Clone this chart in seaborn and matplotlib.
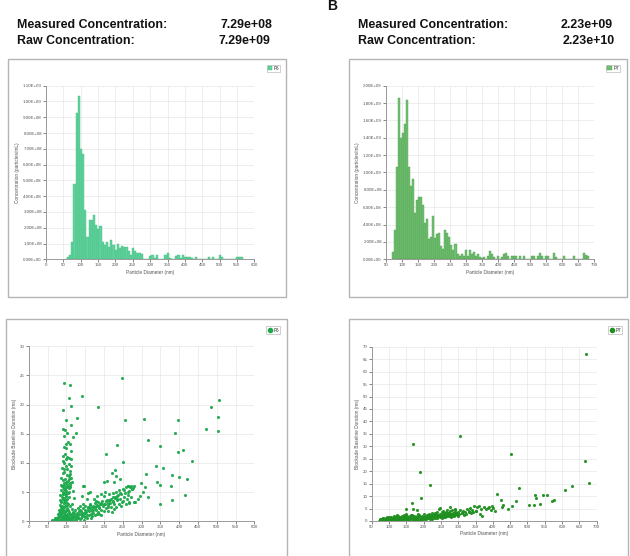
import numpy as np
import pandas as pd
import seaborn as sns
import matplotlib
matplotlib.use("Agg")
import matplotlib.pyplot as plt
from matplotlib.patches import Rectangle, Patch
from matplotlib.lines import Line2D
from matplotlib.ticker import FuncFormatter

# ---------------- data ----------------
header_labels = ["Measured Concentration:", "Raw Concentration:"]
left_header_values = ["7.29e+08", "7.29e+09"]
right_header_values = ["2.23e+09", "2.23e+10"]
panel_letter = "B"
legend_a = "P6"
legend_b = "P7"

# histogram A (left): bin centers (nm) and concentration (x1e8 particles/mL)
hist_a_centers = [56.875, 63.125, 69.375, 75.625, 81.875, 88.125, 94.375, 100.625, 106.875,
                  113.125, 119.375, 125.625, 131.875, 138.125, 144.375, 150.625, 156.875,
                  163.125, 169.375, 175.625, 181.875, 188.125, 194.375, 200.625, 206.875,
                  213.125, 219.375, 225.625, 231.875, 238.125, 244.375, 250.625, 256.875,
                  263.125, 269.375, 275.625, 281.875, 300.625, 306.875, 313.125, 319.375,
                  344.375, 350.625, 356.875, 375.625, 381.875, 388.125, 394.375, 400.625,
                  406.875, 413.125, 419.375, 431.875, 469.375, 481.875, 500.625, 506.875,
                  550.625, 556.875, 563.125]
hist_a_values = [0.05, 0.15, 0.3, 1.1, 4.8, 9.25, 10.36, 7.0, 6.7,
                 3.1, 1.4, 2.5, 2.5, 2.8, 2.2, 1.9, 2.1,
                 1.1, 0.9, 1.1, 0.8, 1.2, 0.9, 0.6, 1.0,
                 0.7, 0.85, 0.8, 0.75, 0.5, 0.3, 0.7, 0.5,
                 0.4, 0.4, 0.35, 0.05, 0.2, 0.25, 0.1, 0.25,
                 0.3, 0.4, 0.1, 0.2, 0.25, 0.1, 0.25, 0.15,
                 0.15, 0.15, 0.1, 0.15, 0.15, 0.15, 0.25, 0.15,
                 0.15, 0.15, 0.15]

# histogram B (right)
hist_b_centers = [73.125, 79.375, 85.625, 91.875, 98.125, 104.375, 110.625, 116.875, 123.125,
                  129.375, 135.625, 141.875, 148.125, 154.375, 160.625, 166.875, 173.125,
                  179.375, 185.625, 191.875, 198.125, 204.375, 210.625, 216.875, 223.125,
                  229.375, 235.625, 241.875, 248.125, 254.375, 260.625, 266.875, 273.125,
                  279.375, 285.625, 291.875, 298.125, 304.375, 310.625, 316.875, 323.125,
                  329.375, 335.625, 341.875, 348.125, 354.375, 366.875, 373.125, 379.375,
                  385.625, 398.125, 410.625, 416.875, 423.125, 429.375, 441.875, 448.125,
                  454.375, 466.875, 479.375, 504.375, 510.625, 523.125, 529.375, 535.625,
                  548.125, 554.375, 573.125, 579.375, 604.375, 635.625, 666.875, 673.125,
                  679.375]
hist_b_values = [0.8, 3.4, 10.6, 18.6, 14.0, 14.5, 15.6, 18.3, 10.6,
                 8.4, 9.2, 5.3, 6.8, 7.2, 7.2, 6.2, 4.2,
                 4.6, 2.3, 2.6, 5.0, 2.4, 2.9, 3.0, 1.5,
                 1.2, 3.4, 3.0, 2.6, 1.6, 1.1, 1.8, 0.6,
                 0.4, 0.6, 0.4, 1.1, 0.4, 1.1, 0.6, 0.8,
                 0.4, 0.6, 0.3, 0.2, 0.3, 0.4, 0.9, 0.6,
                 0.3, 0.4, 0.3, 0.6, 0.7, 0.4, 0.35, 0.4,
                 0.4, 0.35, 0.4, 0.35, 0.4, 0.4, 0.75, 0.4,
                 0.4, 0.35, 0.75, 0.3, 0.35, 0.35, 0.75, 0.5,
                 0.35]

# scatter A (left): diameter (nm) vs blockade baseline duration (ms)
scatter_a_x = [95, 110, 141, 106, 113, 92, 185, 249, 128, 99, 256, 307, 398, 113, 90, 97, 126, 101, 118,
               316, 388, 235, 348, 505, 485, 503, 471, 504, 206, 396, 410, 434, 252, 338, 357, 312, 382,
               400, 422, 221, 230, 233, 243, 227, 199, 342, 348, 299, 309, 379, 145, 417, 318, 382, 350,
               267, 279, 277, 263,
               95, 98, 100, 104, 92, 97, 102, 108, 112, 90, 94, 99, 106, 113, 88, 93, 98, 103, 109, 90,
               95, 101, 107, 112, 87, 92, 97, 100, 104, 109, 114, 85, 89, 94, 98, 102, 106, 111, 86, 90,
               93, 96, 100, 104, 108, 84, 88, 92, 95, 99, 103, 107, 83, 87, 90, 94, 97, 101, 105, 82,
               85, 89, 92, 96, 99, 103, 80, 84, 87, 91, 95, 98, 102, 106, 110, 77, 80, 83, 86, 89,
               93, 96, 100, 104, 108, 112, 116, 120, 73, 76, 79, 82, 85, 88, 91, 94, 97, 101, 105, 109,
               113, 118, 124, 68, 70, 65, 63, 72, 117, 114, 111, 116, 120, 118, 113, 95, 110,
               91, 94, 96, 98, 100, 93, 97, 89, 103, 99, 101, 95, 92, 105,
               125, 130, 128, 135, 138, 140, 143, 146, 150, 148, 152, 155, 157, 160, 162, 165, 167, 170,
               172, 175, 178, 180, 183, 185, 188, 190, 193, 195, 198, 200, 203, 205, 208, 210, 213, 215,
               218, 220, 223, 225, 228, 230, 233, 236, 238, 240, 243, 246, 248, 251, 254, 257, 260, 263,
               265, 268, 270, 273, 276, 280, 132, 137, 144, 154, 158, 163, 147, 142, 168, 173, 182, 192,
               204, 212, 226, 245, 258, 207, 186, 176, 166, 156, 146, 136, 126, 131, 141, 151, 161, 171,
               181, 191, 201, 211, 221, 231, 241, 251, 261, 271, 284, 290, 296, 303, 267,
               78, 81, 84, 87, 90, 93, 96, 99, 102, 105, 108, 111, 114, 117, 121, 127, 133, 139,
               145, 151, 157, 163, 169, 175, 181, 187, 193, 199, 205, 211, 217, 223, 229, 235,
               86, 91, 96, 101, 106, 111, 89, 94, 99, 104, 109, 115, 122, 129, 136, 143, 150, 157,
               164, 171, 178, 185, 192, 214, 224, 234, 244, 254, 264, 274]
scatter_a_y = [23.7, 23.4, 21.4, 21.1, 19.7, 19.1, 19.6, 24.5, 17.7, 17.3, 17.3, 17.5, 17.4, 16.5, 15.9,
               15.7, 15.2, 15.2, 14.5, 13.9, 15.2, 13.0, 12.9, 20.8, 19.6, 17.9, 15.8, 15.4, 11.5, 11.9,
               12.2, 10.3, 10.1, 9.5, 9.1, 8.1, 8.0, 7.6, 7.3, 8.3, 8.8, 7.8, 7.3, 6.8, 6.8, 6.8, 6.3,
               6.6, 5.8, 6.1, 6.1, 4.5, 4.1, 3.7, 2.9, 3.3, 3.3, 5.7, 6.1,
               12.8, 12.5, 13.3, 13.6, 11.2, 11.6, 11.0, 10.8, 10.6, 10.3, 10.0, 10.6, 9.8, 9.5, 9.2,
               9.0, 9.4, 8.9, 8.6, 8.2, 8.4, 8.0, 7.8, 7.4, 7.5, 7.0, 7.2, 6.8, 6.9, 6.6, 6.7, 6.3,
               6.0, 6.2, 5.9, 6.1, 5.7, 5.8, 5.3, 5.1, 5.5, 4.9, 5.2, 4.8, 5.0, 4.5, 4.2, 4.6, 4.0,
               4.3, 3.9, 4.1, 3.6, 3.3, 3.8, 3.1, 3.5, 3.2, 2.9, 2.8, 2.5, 2.7, 2.2, 2.6, 2.0, 2.3,
               2.0, 1.8, 1.5, 1.9, 1.4, 1.7, 1.2, 1.6, 1.3, 1.2, 0.9, 1.3, 0.7, 1.0, 0.6, 0.9, 0.5,
               0.8, 0.4, 0.7, 0.5, 0.9, 0.6, 0.3, 0.5, 0.2, 0.4, 0.1, 0.3, 0.2, 0.4, 0.1, 0.3, 0.2,
               0.1, 0.3, 0.5, 0.2, 0.5, 0.1, 0.3, 0.1, 1.6, 2.1, 2.6, 3.0, 4.0, 5.2, 12.1, 14.6, 13.3,
               5.9, 6.6, 5.3, 4.6, 3.7, 2.4, 1.1, 1.7, 0.3, 0.9, 2.8, 3.2, 0.8, 0.6,
               1.0, 0.8, 1.5, 1.2, 0.6, 1.8, 1.0, 1.4, 2.0, 0.9, 1.6, 1.1, 2.4, 1.7, 2.8, 1.3, 2.1, 2.6,
               1.5, 3.1, 2.0, 2.7, 1.6, 3.3, 2.3, 2.9, 1.9, 3.5, 2.6, 4.3, 3.0, 2.2, 3.7, 2.8, 4.6, 3.2,
               2.5, 3.9, 4.8, 3.4, 2.9, 4.2, 5.0, 3.6, 4.5, 5.3, 3.9, 4.7, 3.3, 5.5, 4.2, 4.9, 5.8, 4.5,
               6.0, 5.2, 5.8, 6.1, 5.5, 6.0, 2.3, 2.6, 3.0, 3.8, 4.9, 5.1, 6.1, 4.3, 0.9, 3.9, 4.4, 4.6,
               5.1, 1.8, 2.1, 2.6, 3.0, 6.9, 1.2, 1.0, 0.6, 0.5, 0.3, 0.4, 0.2, 0.6, 0.9, 0.8, 1.0, 1.9,
               1.3, 1.1, 1.8, 2.4, 1.6, 2.5, 3.0, 3.5, 3.9, 4.1, 3.3, 3.9, 4.4, 5.0, 3.2,
               0.7, 1.5, 0.3, 2.1, 0.8, 1.6, 0.2, 1.1, 0.6, 1.9, 1.0, 0.4, 1.2, 0.8, 1.4, 0.5, 1.7, 1.3,
               2.2, 1.4, 1.9, 2.4, 1.7, 2.3, 2.8, 2.5, 3.2, 2.9, 3.4, 3.1, 3.6, 3.3, 4.0, 3.8,
               3.4, 4.7, 5.6, 6.4, 7.3, 8.1, 2.4, 3.7, 4.4, 5.9, 6.3, 1.0, 1.9, 1.1, 2.0, 1.5, 2.6, 2.3,
               2.9, 2.5, 3.4, 2.6, 3.0, 3.6, 4.1, 4.3, 4.9, 5.3, 5.0, 5.6]

# scatter B (right)
scatter_b_x = [668, 304, 168, 189, 193, 218, 452, 667, 678, 629, 607, 475, 412, 522, 525, 546, 557, 576,
               572, 504, 519, 535, 468, 423, 429, 426, 454, 445, 165, 148, 170, 182, 148,
               72, 75, 78, 80, 83, 86, 88, 90, 92, 95, 97, 100, 102, 105, 107, 110, 112, 115, 117, 120,
               122, 125, 127, 130, 132, 135, 137, 140, 142, 145, 147, 150, 152, 155, 157, 160, 162, 165,
               167, 170, 172, 175, 177, 180, 182, 185, 187, 190, 192, 195, 197, 200, 202, 205, 207, 210,
               212, 215, 217, 220, 222, 225, 227, 230, 232, 235, 237, 240, 242, 245, 247, 250, 252, 255,
               257, 260, 262, 265, 267, 270, 272, 275, 277, 280, 282, 285, 287, 290, 292, 295, 300, 305,
               310, 315, 320, 325, 330, 335, 340, 345, 350, 355, 360, 365, 370, 375, 380, 385, 390, 395,
               400, 405, 397, 362, 338, 318, 298, 278, 258, 238, 218, 198, 178, 158, 138, 118, 98, 85,
               76, 113, 128, 143, 153, 168, 183, 193, 203, 213, 223, 233, 243, 253, 263, 273, 283, 293,
               246, 276, 290, 82, 94, 108, 124, 134, 149, 163, 176, 188, 206, 228, 248, 268, 288,
               74, 79, 84, 89, 93, 99, 104, 109, 114, 119, 126, 131, 136, 141, 146, 151, 156, 161,
               166, 171, 176, 181, 186, 191, 196, 201, 209, 214, 219, 224, 229, 236, 241, 251, 256,
               261, 266, 271, 281, 286, 291, 296, 302, 312, 322, 332, 342, 352]
scatter_b_y = [67.2, 34.3, 30.9, 19.8, 9.1, 14.3, 26.9, 24.1, 15.1, 14.2, 12.3, 13.1, 10.7, 10.3, 9.1,
               10.3, 10.3, 8.6, 8.0, 6.4, 6.4, 6.7, 7.9, 8.3, 6.3, 5.5, 5.9, 5.0, 7.2, 4.7, 4.7, 4.4, 2.9,
               0.2, 0.5, 0.1, 0.8, 0.3, 1.0, 0.4, 0.0, 1.3, 0.6, 0.2, 1.5, 0.8, 0.3, 1.8, 1.1, 0.5, 2.2,
               0.9, 1.6, 0.4, 1.2, 2.0, 0.7, 1.4, 0.9, 1.9, 1.1, 0.5, 1.6, 0.9, 1.3, 2.1, 0.8, 1.5, 1.9,
               1.0, 1.5, 2.3, 1.2, 0.6, 1.8, 1.4, 2.0, 0.9, 1.6, 2.5, 1.8, 1.2, 2.1, 1.5, 1.8, 2.7, 1.3,
               2.0, 2.4, 1.6, 2.9, 2.1, 1.5, 2.6, 3.1, 1.9, 2.3, 3.3, 2.0, 2.8, 3.6, 2.4, 4.8, 3.0, 2.2,
               3.5, 2.7, 4.0, 3.1, 2.3, 3.6, 4.3, 2.8, 3.3, 2.5, 3.9, 3.0, 4.5, 3.4, 2.6, 3.8, 5.0, 3.2,
               3.6, 4.6, 3.1, 4.2, 3.5, 4.8, 3.9, 5.3, 4.4, 5.9, 4.1, 5.5, 6.0, 4.7, 2.2, 5.6, 4.9, 5.4,
               5.8, 4.3, 5.2, 4.0, 6.0, 2.9, 3.1, 2.6, 2.2, 1.8, 1.7, 1.3, 0.9, 0.7, 0.4, 0.3, 0.2, 0.1,
               1.1, 0.6, 1.0, 1.7, 0.3, 2.4, 0.5, 0.4, 2.8, 0.3, 0.9, 1.1, 0.8, 1.2, 1.9, 1.4, 1.8, 2.1,
               2.3, 2.8, 5.2, 5.6, 4.6, 1.4, 1.7, 0.6, 2.3, 0.2, 0.6, 2.6, 0.8, 0.5, 1.0, 1.1, 1.7, 1.9, 2.0,
               0.9, 0.3, 1.2, 0.7, 0.1, 0.9, 1.2, 0.2, 1.4, 0.6, 0.9, 1.7, 0.4, 1.3, 2.0, 0.5, 1.1, 1.6,
               0.7, 1.9, 1.1, 1.4, 2.1, 0.8, 1.3, 1.5, 1.8, 2.2, 1.2, 1.9, 2.5, 1.6, 2.1, 2.6, 1.9,
               2.9, 2.2, 3.2, 2.0, 2.7, 3.1, 2.4, 2.8, 3.3, 3.0, 3.6, 3.8, 4.2]

# ---------------- styling ----------------
sns.set_theme(style="whitegrid")
plt.rcParams["font.family"] = ["Liberation Sans", "DejaVu Sans"]

W, H = 630, 556
fig = plt.figure(figsize=(6.3, 5.56), dpi=100)


def fx(px):
    return px / W


def fy(py):
    return 1 - py / H


def axes_px(x0, y0, x1, y1):
    return fig.add_axes([fx(x0), fy(y1), fx(x1) - fx(x0), (y1 - y0) / H])


frame_col = "#b4b4b4"
for (x0, y0, x1, y1) in [(8, 59, 286, 297), (349, 59, 627, 297), (6, 319, 287, 570), (349, 319, 628, 570)]:
    fig.add_artist(Rectangle((fx(x0), fy(y1)), fx(x1) - fx(x0), (y1 - y0) / H,
                             transform=fig.transFigure, fill=False, edgecolor=frame_col, lw=1.0))

# headers
hdr_kw = dict(fontsize=8.9, fontweight="bold", color="#111111", transform=fig.transFigure)
fig.text(fx(17), fy(27.5), header_labels[0], ha="left", va="baseline", **hdr_kw)
fig.text(fx(17), fy(44), header_labels[1], ha="left", va="baseline", **hdr_kw)
fig.text(fx(272), fy(27.5), left_header_values[0], ha="right", va="baseline", **hdr_kw)
fig.text(fx(270), fy(44), left_header_values[1], ha="right", va="baseline", **hdr_kw)
fig.text(fx(358), fy(27.5), header_labels[0], ha="left", va="baseline", **hdr_kw)
fig.text(fx(358), fy(44), header_labels[1], ha="left", va="baseline", **hdr_kw)
fig.text(fx(613), fy(27.5), right_header_values[0], ha="right", va="baseline", **hdr_kw)
fig.text(fx(615), fy(44), right_header_values[1], ha="right", va="baseline", **hdr_kw)
fig.text(fx(327), fy(10.5), panel_letter, ha="left", va="baseline", fontsize=10,
         fontweight="bold", color="#111111")

tick_fs = 3.2
lab_fs = 3.4
grid_col = "#e8e8e8"
spine_col = "#9a9a9a"


def style_axes(ax, xlabel, ylabel):
    ax.set_facecolor("white")
    ax.grid(True, color=grid_col, lw=0.5)
    for s in ["top", "right"]:
        ax.spines[s].set_visible(False)
    for s in ["left", "bottom"]:
        ax.spines[s].set_color(spine_col)
        ax.spines[s].set_linewidth(0.7)
    ax.tick_params(axis="both", labelsize=tick_fs, colors="#555555", length=2, width=0.5,
                   pad=1, direction="out", left=True, bottom=True)
    ax.set_xlabel(xlabel, fontsize=lab_fs, color="#555555", labelpad=1.5)
    ax.set_ylabel(ylabel, fontsize=lab_fs, color="#555555", labelpad=2)


def sci(v, pos):
    if v == 0:
        return "0.00E+00"
    e = int(np.floor(np.log10(abs(v))))
    return f"{v / 10 ** e:.2f}E+{e:02d}"


def legend_box(label, handle, x0, y0, x1, y1):
    leg = fig.legend([handle], [label], loc="center", bbox_to_anchor=(fx((x0 + x1) / 2), fy((y0 + y1) / 2)),
                     bbox_transform=fig.transFigure, fontsize=3.3, frameon=True, handlelength=1.0,
                     handleheight=1.0, handletextpad=0.3, borderpad=0.25, fancybox=False,
                     borderaxespad=0)
    leg.get_frame().set_edgecolor("#aaaaaa")
    leg.get_frame().set_linewidth(0.5)


# --- histogram A ---
col_a = "#62d39c"
edge_a = "#43bf84"
ax1 = axes_px(46, 85.7, 254.3, 259.3)
df_a = pd.DataFrame({"d": hist_a_centers, "c": np.array(hist_a_values) * 1e8})
sns.histplot(data=df_a, x="d", weights="c", binwidth=6.25, binrange=(53.75, 566.25), ax=ax1,
             color=col_a, edgecolor=edge_a, linewidth=0.3, alpha=1.0)
ax1.set_xlim(0, 600)
ax1.set_ylim(0, 1.1e9)
ax1.set_xticks(np.arange(0, 601, 50))
ax1.set_yticks(np.arange(0, 1.11e9, 1e8))
ax1.yaxis.set_major_formatter(FuncFormatter(sci))
style_axes(ax1, "Particle Diameter (nm)", "Concentration (particles/mL)")
legend_box(legend_a, Patch(facecolor=col_a, edgecolor=edge_a, lw=0.3), 265, 64, 282, 73)

# --- histogram B ---
col_b = "#72c072"
edge_b = "#4f9f4f"
ax2 = axes_px(386, 85.7, 594.3, 259.3)
df_b = pd.DataFrame({"d": hist_b_centers, "c": np.array(hist_b_values) * 1e8})
sns.histplot(data=df_b, x="d", weights="c", binwidth=6.25, binrange=(70, 682.5), ax=ax2,
             color=col_b, edgecolor=edge_b, linewidth=0.3, alpha=1.0)
ax2.set_xlim(50, 700)
ax2.set_ylim(0, 2.0e9)
ax2.set_xticks(np.arange(50, 701, 50))
ax2.set_yticks(np.arange(0, 2.01e9, 2e8))
ax2.yaxis.set_major_formatter(FuncFormatter(sci))
style_axes(ax2, "Particle Diameter (nm)", "Concentration (particles/mL)")
legend_box(legend_b, Patch(facecolor=col_b, edgecolor=edge_b, lw=0.3), 604, 64, 622, 73)

# --- scatter A ---
sc_a = "#1eaa4c"
ax3 = axes_px(28.7, 346.3, 254.3, 521.3)
sns.scatterplot(x=scatter_a_x, y=scatter_a_y, ax=ax3, color=sc_a, s=5, linewidth=0, alpha=0.95)
ax3.set_xlim(0, 600)
ax3.set_ylim(0, 30)
ax3.set_xticks(np.arange(0, 601, 50))
ax3.set_yticks(np.arange(0, 31, 5))
style_axes(ax3, "Particle Diameter (nm)", "Blockade Baseline Duration (ms)")
legend_box(legend_a, Line2D([], [], marker="o", ls="", color=sc_a, markersize=3), 265, 326, 281, 334)

# --- scatter B ---
sc_b = "#1f8f1f"
ax4 = axes_px(371.7, 346.7, 596.7, 521)
sns.scatterplot(x=scatter_b_x, y=scatter_b_y, ax=ax4, color=sc_b, s=5, linewidth=0, alpha=0.95)
ax4.set_xlim(50, 700)
ax4.set_ylim(0, 70)
ax4.set_xticks(np.arange(50, 701, 50))
ax4.set_yticks(np.arange(0, 71, 5))
style_axes(ax4, "Particle Diameter (nm)", "Blockade Baseline Duration (ms)")
legend_box(legend_b, Line2D([], [], marker="o", ls="", color=sc_b, markersize=3), 607, 326, 623, 334)

fig.savefig("out.png", dpi=100, facecolor="white")
